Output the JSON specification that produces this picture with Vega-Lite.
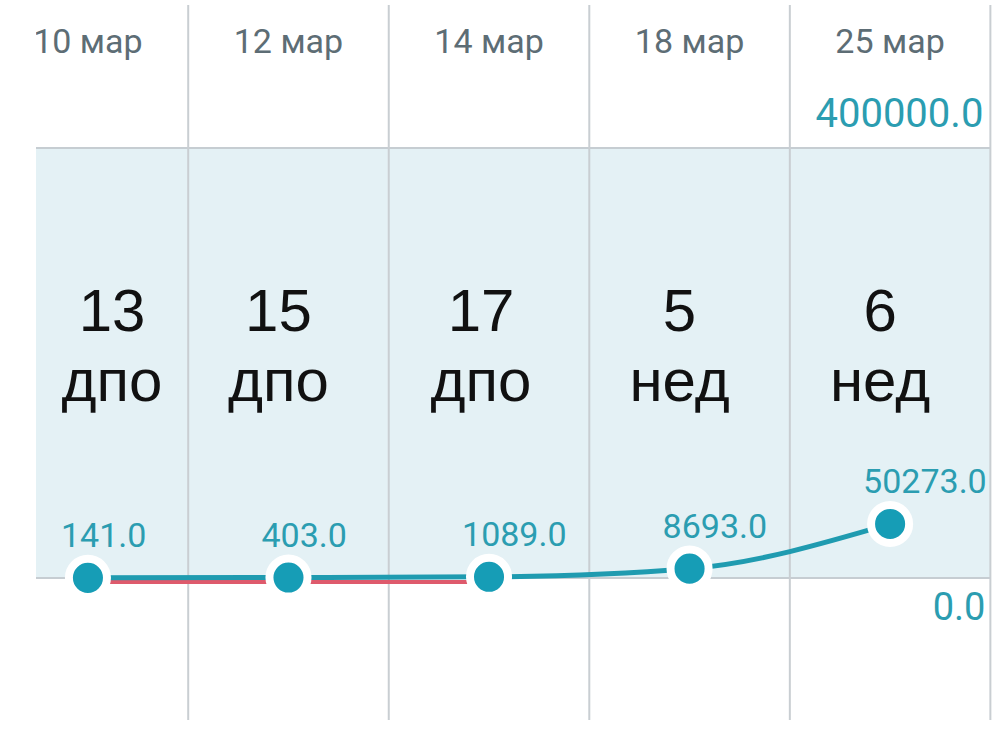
{
  "$schema": "https://vega.github.io/schema/vega-lite/v6.json",
  "width": 1000,
  "height": 753,
  "autosize": {"type": "fit", "contains": "padding"},
  "padding": {"left": 35, "top": 0, "right": 0, "bottom": 0},
  "background": "white",
  "config": {"view": {"stroke": null}},
  "datasets": {
    "hcg": [
      {"i": 0, "date": "10 мар", "v": 141},
      {"i": 1, "date": "12 мар", "v": 403},
      {"i": 2, "date": "14 мар", "v": 1089},
      {"i": 3, "date": "18 мар", "v": 8693},
      {"i": 4, "date": "25 мар", "v": 50273}
    ],
    "terms": [
      {"c": 0.12, "t": "13\nдпо"},
      {"c": 0.95, "t": "15\nдпо"},
      {"c": 1.96, "t": "17\nдпо"},
      {"c": 2.95, "t": "5\nнед"},
      {"c": 3.95, "t": "6\nнед"}
    ],
    "red": [
      {"i": 0, "r": -3700},
      {"i": 1, "r": -3700},
      {"i": 2, "r": -3700}
    ],
    "bounds": [{"b": 0.5}, {"b": 1.5}, {"b": 2.5}, {"b": 3.5}, {"b": 4.5}],
    "hlines": [{"h": 0}, {"h": 400000}],
    "one": [{}]
  },
  "layer": [
    {
      "data": {"name": "one"},
      "mark": {"type": "rect", "color": "#e4f1f5"},
      "encoding": {
        "x": {"datum": -0.259, "type": "quantitative", "scale": {"domain": [-0.259, 4.548], "nice": false, "zero": false}, "axis": null},
        "x2": {"datum": 4.5},
        "y": {"datum": 0, "type": "quantitative", "scale": {"domain": [-162791, 537674], "nice": false, "zero": false}, "axis": null},
        "y2": {"datum": 400000}
      }
    },
    {
      "data": {"name": "hlines"},
      "mark": {"type": "rule", "color": "#c6cdd2", "strokeWidth": 2},
      "encoding": {
        "x": {"datum": -0.259, "type": "quantitative"},
        "x2": {"datum": 4.5},
        "y": {"field": "h", "type": "quantitative"}
      }
    },
    {
      "data": {"name": "bounds"},
      "mark": {"type": "rule", "color": "#c9ced2", "strokeWidth": 2},
      "encoding": {
        "x": {"field": "b", "type": "quantitative"},
        "y": {"datum": -132093, "type": "quantitative"},
        "y2": {"datum": 533023}
      }
    },
    {
      "data": {"name": "hcg"},
      "mark": {"type": "text", "font": "Roboto", "fontSize": 34, "color": "#5d6d75", "baseline": "alphabetic", "align": "center", "clip": true},
      "encoding": {
        "x": {"field": "i", "type": "quantitative"},
        "y": {"datum": 488372, "type": "quantitative"},
        "text": {"field": "date"}
      }
    },
    {
      "data": {"name": "terms"},
      "mark": {"type": "text", "font": "Liberation Sans", "fontSize": 60, "color": "#111111", "baseline": "alphabetic", "align": "center", "lineBreak": "\n", "lineHeight": 70},
      "encoding": {
        "x": {"field": "c", "type": "quantitative"},
        "y": {"datum": 229500, "type": "quantitative"},
        "text": {"field": "t"}
      }
    },
    {
      "data": {"name": "red"},
      "mark": {"type": "line", "color": "#de5a6c", "strokeWidth": 4},
      "encoding": {
        "x": {"field": "i", "type": "quantitative"},
        "y": {"field": "r", "type": "quantitative"}
      }
    },
    {
      "data": {"name": "hcg"},
      "mark": {"type": "line", "color": "#1f9bb0", "strokeWidth": 5, "interpolate": "monotone"},
      "encoding": {
        "x": {"field": "i", "type": "quantitative"},
        "y": {"field": "v", "type": "quantitative"}
      }
    },
    {
      "data": {"name": "hcg"},
      "mark": {"type": "point", "filled": true, "shape": "circle", "size": 1450, "fill": "#169db6", "stroke": "white", "strokeWidth": 8, "opacity": 1, "fillOpacity": 1, "strokeOpacity": 1},
      "encoding": {
        "x": {"field": "i", "type": "quantitative"},
        "y": {"field": "v", "type": "quantitative"}
      }
    },
    {
      "data": {"name": "hcg"},
      "mark": {"type": "text", "font": "Roboto", "fontSize": 34, "color": "#2b9db1", "baseline": "alphabetic", "align": "left", "dx": -27, "dy": -31},
      "encoding": {
        "x": {"field": "i", "type": "quantitative"},
        "y": {"field": "v", "type": "quantitative"},
        "text": {"field": "v", "type": "quantitative", "format": ".1f"}
      }
    },
    {
      "data": {"name": "hlines"},
      "transform": [{"filter": "datum.h > 0"}],
      "mark": {"type": "text", "font": "Roboto", "fontSize": 40, "color": "#2b9db1", "baseline": "alphabetic", "align": "right", "dx": -7, "dy": -21},
      "encoding": {
        "x": {"datum": 4.5, "type": "quantitative"},
        "y": {"field": "h", "type": "quantitative"},
        "text": {"field": "h", "type": "quantitative", "format": ".1f"}
      }
    },
    {
      "data": {"name": "hlines"},
      "transform": [{"filter": "datum.h == 0"}],
      "mark": {"type": "text", "font": "Roboto", "fontSize": 38, "color": "#2b9db1", "baseline": "alphabetic", "align": "right", "dx": -5, "dy": 42},
      "encoding": {
        "x": {"datum": 4.5, "type": "quantitative"},
        "y": {"field": "h", "type": "quantitative"},
        "text": {"field": "h", "type": "quantitative", "format": ".1f"}
      }
    }
  ]
}
